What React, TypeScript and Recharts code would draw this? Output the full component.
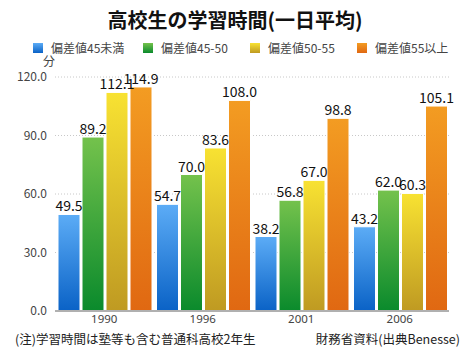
import { BarChart, Bar, XAxis, YAxis, CartesianGrid, LabelList } from "recharts";

const years = ["1990", "1996", "2001", "2006"];
const under45 = [49.5, 54.7, 38.2, 43.2];
const from45to50 = [89.2, 70.0, 56.8, 62.0];
const from50to55 = [112.1, 83.6, 67.0, 60.3];
const over55 = [114.9, 108.0, 98.8, 105.1];
const yTicks = [0, 30, 60, 90, 120];

const SERIES = [
  { key: "s1", name: "偏差値45未満", values: under45, top: "#5cacf6", bottom: "#0a62c6" },
  { key: "s2", name: "偏差値45-50", values: from45to50, top: "#74c24c", bottom: "#0a8a2c" },
  { key: "s3", name: "偏差値50-55", values: from50to55, top: "#f8e232", bottom: "#bf9a22" },
  { key: "s4", name: "偏差値55以上", values: over55, top: "#f39c22", bottom: "#e06812" },
];

const data = years.map((y, i) => {
  const row: Record<string, string | number> = { year: y };
  SERIES.forEach((s) => (row[s.key] = s.values[i]));
  return row;
});

const FONT = "'Noto Sans CJK JP', 'Noto Sans', sans-serif";

function YearTick({ x, y, payload }: any) {
  return (
    <text x={x} y={y + 5} textAnchor="middle" fontSize={11.5} fill="#444" style={{ fontFamily: "'Noto Sans', sans-serif" }}>
      {payload.value}
    </text>
  );
}

export default function App() {
  return (
    <div style={{ position: "absolute", left: 0, top: 0, width: 470, height: 353, background: "#fff", fontFamily: FONT }}>
      <div style={{ position: "absolute", left: 0, top: 6, width: 470, textAlign: "center", fontSize: 20, fontWeight: 700, color: "#111", lineHeight: "28px" }}>
        高校生の学習時間(一日平均)
      </div>
      {SERIES.map((s, i) => (
        <div key={s.key} style={{ position: "absolute", left: [33, 143, 250, 357][i], top: 40, display: "flex", alignItems: "center", fontSize: 12, color: "#444", lineHeight: "16px" }}>
          <span style={{ display: "inline-block", width: 10, height: 10, background: `linear-gradient(${s.top}, ${s.bottom})`, marginRight: 8 }} />
          {s.name}
        </div>
      ))}
      <div style={{ position: "absolute", left: 43, top: 53, fontSize: 12, color: "#444", lineHeight: "16px" }}>分</div>
      <BarChart
        width={470}
        height={353}
        data={data}
        margin={{ top: 77, right: 21, bottom: 0, left: 0 }}
        barCategoryGap={3}
        barGap={2}
        style={{ fontFamily: FONT }}
      >
        <defs>
          {SERIES.map((s) => (
            <linearGradient key={s.key} id={`g-${s.key}`} x1="0" y1="0" x2="0" y2="1">
              <stop offset="0%" stopColor={s.top} />
              <stop offset="100%" stopColor={s.bottom} />
            </linearGradient>
          ))}
        </defs>
        <CartesianGrid vertical={false} stroke="#c8c8c8" strokeDasharray="1 2" />
        <XAxis
          dataKey="year"
          height={42}
          tick={<YearTick />}
          tickLine={false}
          axisLine={{ stroke: "#b0b0b0", strokeWidth: 2 }}
          tickMargin={1}
        />
        <YAxis
          width={55}
          domain={[0, 120]}
          ticks={yTicks}
          tickFormatter={(v: number) => v.toFixed(1)}
          tick={{ fontSize: 12, fill: "#444", fontFamily: FONT }}
          tickLine={false}
          axisLine={false}
          tickMargin={2}
        />
        {SERIES.map((s) => (
          <Bar key={s.key} dataKey={s.key} name={s.name} fill={`url(#g-${s.key})`} stroke="#fff" strokeWidth={1} isAnimationActive={false}>
            <LabelList dataKey={s.key} position="top" offset={3} formatter={(v: number) => v.toFixed(1)} style={{ fontSize: 14, fill: "#111", fontFamily: FONT }} />
          </Bar>
        ))}
      </BarChart>
      <div style={{ position: "absolute", left: 15, top: 330, fontSize: 12.5, color: "#222", lineHeight: "18px" }}>
        (注)学習時間は塾等も含む普通科高校2年生
      </div>
      <div style={{ position: "absolute", right: 10, top: 330, fontSize: 12.5, color: "#222", lineHeight: "18px" }}>
        財務省資料(出典Benesse)
      </div>
    </div>
  );
}
